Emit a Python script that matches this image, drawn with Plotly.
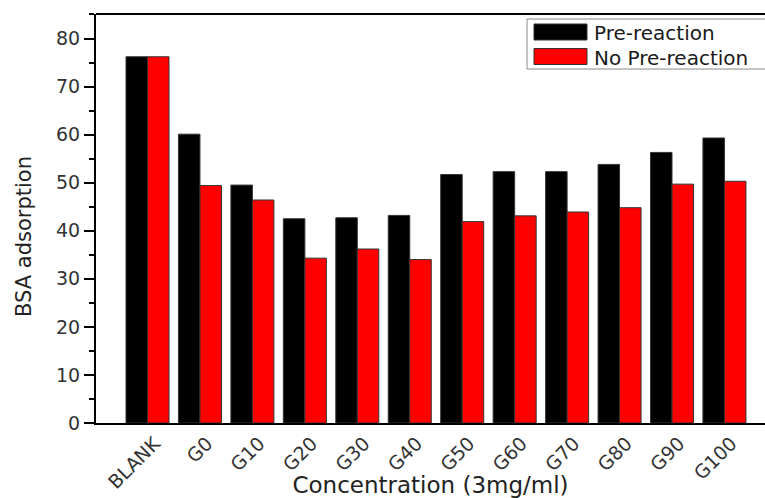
import plotly.graph_objects as go

categories = ["BLANK", "G0", "G10", "G20", "G30", "G40", "G50", "G60", "G70", "G80", "G90", "G100"]
pre_reaction = [76.2, 60.1, 49.5, 42.5, 42.7, 43.2, 51.7, 52.3, 52.3, 53.8, 56.3, 59.3]
no_pre_reaction = [76.2, 49.4, 46.4, 34.3, 36.2, 34.0, 41.9, 43.1, 43.9, 44.8, 49.7, 50.3]
series_names = ["Pre-reaction", "No Pre-reaction"]
series_colors = ["#000000", "#ff0000"]

FONT = "DejaVu Sans, Liberation Sans, Arial, sans-serif"

fig = go.Figure()
for name, vals, col in zip(series_names, [pre_reaction, no_pre_reaction], series_colors):
    fig.add_trace(go.Bar(
        x=categories, y=vals, name=name,
        marker=dict(color=col, line=dict(color="#333333", width=1)),
        showlegend=False,
    ))

# plot area in pixels: left 96, right 765, top 14, bottom 423
L, R, T, B = 96, 765, 14, 423
W, H = R - L, B - T


def px(x):
    return (x - L) / W


def py(y):
    return (B - y) / H


shapes = [
    # top frame line
    dict(type="line", xref="paper", yref="paper", x0=0, x1=1.02, y0=1, y1=1,
         line=dict(color="black", width=2)),
    # legend box
    dict(type="rect", xref="paper", yref="paper", x0=px(527), x1=px(800), y0=py(19), y1=py(69),
         line=dict(color="#888888", width=1), fillcolor="white"),
]
annotations = [
    # y-axis title
    dict(xref="paper", yref="paper", x=px(24), y=py(237), xanchor="center", yanchor="middle",
         showarrow=False, textangle=-90, text="BSA adsorption",
         font=dict(family=FONT, size=21, color="#222222")),
]
for i, (name, col) in enumerate(zip(series_names, series_colors)):
    yc = 32 + i * 24.5
    shapes.append(dict(type="rect", xref="paper", yref="paper",
                       x0=px(534), x1=px(587), y0=py(yc - 8), y1=py(yc + 8),
                       line=dict(color="#333333", width=1), fillcolor=col))
    annotations.append(dict(xref="paper", yref="paper", x=px(592), y=py(yc + 1),
                            xanchor="left", yanchor="middle", showarrow=False,
                            text=name, font=dict(family=FONT, size=20, color="#1a1a1a")))

fig.update_layout(
    width=765, height=498,
    margin=dict(l=L, r=765 - R, t=T, b=498 - B),
    paper_bgcolor="white", plot_bgcolor="white",
    barmode="group", bargap=0.18, bargroupgap=0,
    font=dict(family=FONT, color="#333333"),
    shapes=shapes, annotations=annotations,
    xaxis=dict(
        type="category", range=[-0.982, 11.773], automargin=False,
        showline=True, linecolor="black", linewidth=2,
        ticks="", tickangle=-45, tickfont=dict(size=19, color="#333333"),
        ticklabelshift=7,
        showgrid=False, zeroline=False,
        title=dict(text="Concentration (3mg/ml)", font=dict(size=23, color="#222222"), standoff=0),
    ),
    yaxis=dict(
        range=[0, 85.1], dtick=10, tick0=0, automargin=False,
        showline=True, linecolor="black", linewidth=2,
        ticks="outside", ticklen=10, tickwidth=2, tickcolor="black",
        minor=dict(dtick=5, ticks="outside", ticklen=5, tickwidth=2, tickcolor="black"),
        tickfont=dict(size=19, color="#333333"),
        showgrid=False, zeroline=False,
    ),
)

fig.write_html("out.html")
